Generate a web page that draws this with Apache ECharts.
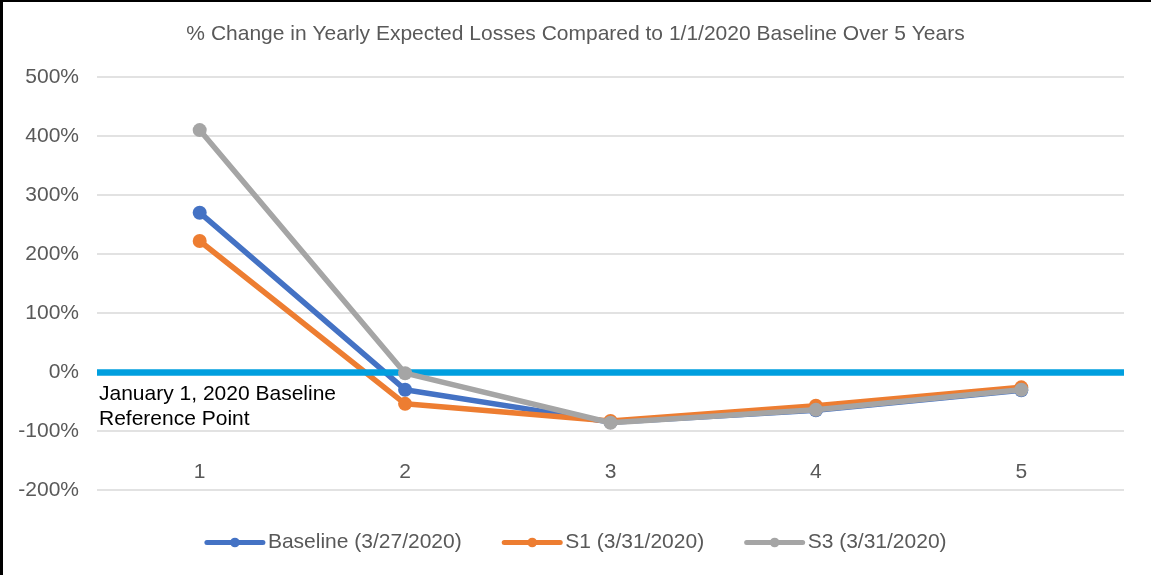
<!DOCTYPE html>
<html>
<head>
<meta charset="utf-8">
<script src="https://cdn.jsdelivr.net/npm/echarts@6/dist/echarts.min.js"></script>
<style>
  html, body { margin: 0; padding: 0; background: #fff; }
  #chart { width: 1151px; height: 575px; }
</style>
</head>
<body>
<div id="chart"></div>
<script>
// Year index along the horizontal axis
const years = ['1', '2', '3', '4', '5'];

// % change in yearly expected losses vs. the 1/1/2020 baseline
const baselineValues = [270, -30, -85, -65, -31];
const s1Values = [222, -54, -83, -57, -26];
const s3Values = [410, -2, -86, -64, -30];

// Value axis ticks (percent)
const yMin = -200;
const yMax = 500;
const yStep = 100;

const seriesNames = ['Baseline (3/27/2020)', 'S1 (3/31/2020)', 'S3 (3/31/2020)'];
const seriesColors = ['#4472C4', '#ED7D31', '#A5A5A5'];
const seriesValues = [baselineValues, s1Values, s3Values];

const font = 'Liberation Sans, Arial, sans-serif';
const chart = echarts.init(document.getElementById('chart'), null, { renderer: 'canvas' });

const lineSeries = seriesNames.map((name, i) => ({
  name: name,
  type: 'line',
  data: seriesValues[i],
  z: 3 + i,
  symbol: 'circle',
  symbolSize: 14,
  showSymbol: true,
  lineStyle: { color: seriesColors[i], width: 5.5, cap: 'round', join: 'round' },
  itemStyle: { color: seriesColors[i] },
  emphasis: { disabled: true },
  animation: false
}));

// Thick reference line at 0%
const referenceSeries = {
  name: 'reference',
  type: 'line',
  data: [],
  z: 2,
  markLine: {
    silent: true,
    symbol: ['none', 'none'],
    label: { show: false },
    lineStyle: { color: '#009FDF', width: 6.5, type: 'solid' },
    data: [{ yAxis: 0 }],
    animation: false
  }
};

chart.setOption({
  animation: false,
  backgroundColor: '#ffffff',
  title: {
    text: '% Change in Yearly Expected Losses Compared to 1/1/2020 Baseline Over 5 Years',
    left: 'center',
    top: 19,
    textStyle: { fontFamily: font, fontSize: 21, fontWeight: 'normal', color: '#595959' }
  },
  legend: {
    data: seriesNames,
    top: 527,
    left: 'center',
    itemWidth: 56,
    itemHeight: 12,
    itemGap: 40,
    lineStyle: { width: 5, cap: 'round' },
    textStyle: { fontFamily: font, fontSize: 21, color: '#595959' }
  },
  grid: { left: 97, right: 27, top: 77, bottom: 85, containLabel: false },
  xAxis: {
    type: 'category',
    data: years,
    boundaryGap: true,
    axisLine: { show: false },
    axisTick: { show: false },
    axisLabel: { margin: -28, fontFamily: font, fontSize: 21, color: '#595959' },
    splitLine: { show: false }
  },
  yAxis: {
    type: 'value',
    min: yMin,
    max: yMax,
    interval: yStep,
    axisLine: { show: false },
    axisTick: { show: false },
    axisLabel: {
      margin: 18,
      fontFamily: font,
      fontSize: 21,
      color: '#595959',
      formatter: v => v + '%'
    },
    splitLine: { lineStyle: { color: '#D9D9D9', width: 1.5 } }
  },
  graphic: [
    { type: 'rect', left: 0, top: 0, z: 100, shape: { width: 3, height: 575 }, style: { fill: '#000' } },
    { type: 'rect', left: 0, top: 0, z: 100, shape: { width: 1151, height: 2 }, style: { fill: '#000' } },
    {
      type: 'text',
      left: 99,
      top: 382,
      z: 10,
      style: {
        text: 'January 1, 2020 Baseline\nReference Point',
        font: '21px ' + font,
        fill: '#000000',
        lineHeight: 25
      }
    }
  ],
  series: [referenceSeries].concat(lineSeries)
});
</script>
</body>
</html>
